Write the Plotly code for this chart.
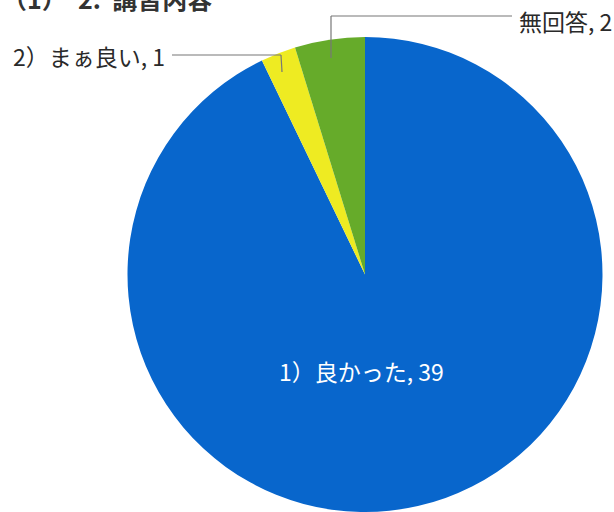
import plotly.graph_objects as go

labels = ["1）良かった", "2）まぁ良い", "無回答"]
values = [39, 1, 2]
colors = ["#0866cc", "#eeeb22", "#66ab2a"]
title_text = "（1）  2.  講習内容"

W, H = 614, 512

def px(x):
    return x / W

def py(y):
    return 1 - y / H

fig = go.Figure(go.Pie(
    labels=labels,
    values=values,
    marker=dict(colors=colors, line=dict(width=0)),
    sort=False,
    direction="clockwise",
    rotation=0,
    textinfo="none",
    hoverinfo="label+value",
    domain=dict(x=[px(127), px(603)], y=[0, py(37)]),
    showlegend=False,
))

font_main = dict(family="Noto Sans CJK JP", size=23, color="#2a2a2a")

annotations = [
    dict(text=f"{labels[0]}, {values[0]}", x=px(361), y=py(371), xref="paper", yref="paper",
         xanchor="center", yanchor="middle", showarrow=False,
         font=dict(family="Noto Sans CJK JP", size=23, color="white")),
    dict(text=f"{labels[1]}, {values[1]}", x=px(167), y=py(56), xref="paper", yref="paper",
         xanchor="right", yanchor="middle", showarrow=False, font=font_main),
    dict(text=f"{labels[2]}, {values[2]}", x=px(517), y=py(21), xref="paper", yref="paper",
         xanchor="left", yanchor="middle", showarrow=False, font=font_main),
    dict(text=title_text, x=px(0), y=py(-2), xref="paper", yref="paper",
         xanchor="left", yanchor="middle", showarrow=False,
         font=dict(family="Noto Sans CJK JP", size=25, color="#333333", weight="bold")),
]

line_style = dict(color="#777777", width=1.2)
shapes = [
    dict(type="line", xref="paper", yref="paper", x0=px(172), y0=py(55), x1=px(281), y1=py(55), line=line_style),
    dict(type="line", xref="paper", yref="paper", x0=px(281), y0=py(55), x1=px(282), y1=py(72), line=line_style),
    dict(type="line", xref="paper", yref="paper", x0=px(331), y0=py(16), x1=px(512), y1=py(16), line=line_style),
    dict(type="line", xref="paper", yref="paper", x0=px(331), y0=py(16), x1=px(331), y1=py(58), line=line_style),
]

fig.update_layout(
    width=W, height=H,
    margin=dict(l=0, r=0, t=0, b=0),
    paper_bgcolor="white",
    annotations=annotations,
    shapes=shapes,
)

fig.write_html("out.html", config={"displayModeBar": False},
               post_script="document.body.style.margin='0';document.body.style.overflow='hidden';")
